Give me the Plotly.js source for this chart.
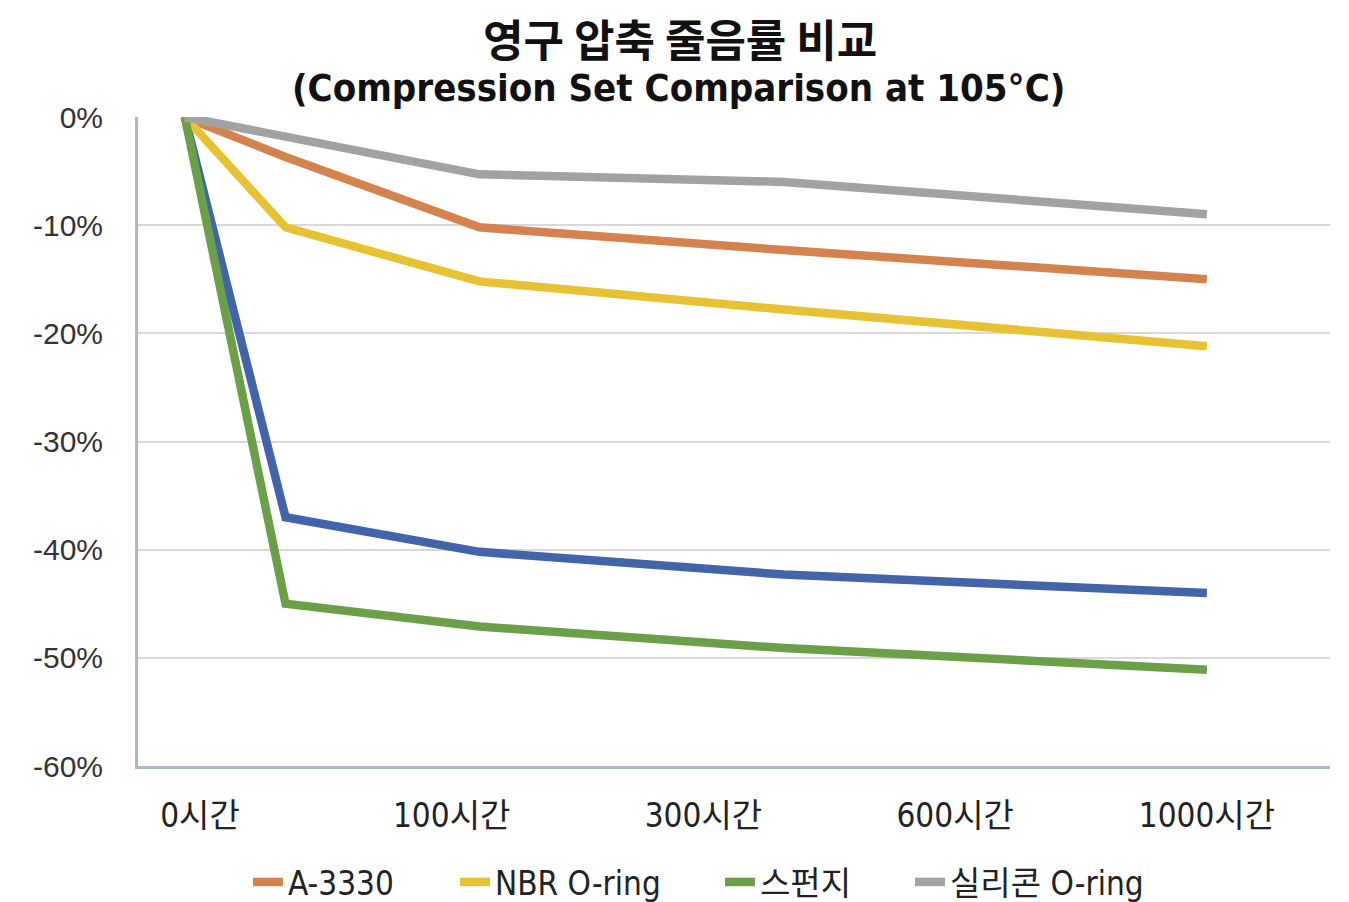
<!DOCTYPE html>
<html>
<head>
<meta charset="utf-8">
<script src="https://cdn.plot.ly/plotly-3.0.1.min.js"></script>
<style>html,body{margin:0;padding:0;background:#fff;}#chart{width:1349px;height:902px;}</style>
</head>
<body>
<div id="chart"></div>
<script>
// tick labels and their slots on the x axis
const xLabels = ['0시간', '100시간', '300시간', '600시간', '1000시간'];
const xLabelPos = [0, 1, 2, 3, 4];
// positions of the data points along the same axis (as drawn in the picture)
const xPos = [-0.06, 0.34, 1.11, 2.32, 4.0];

const seriesNames = ['A-3330', 'NBR O-ring', '스펀지', '실리콘 O-ring'];
const a3330    = [0, -3.7, -10.2, -12.3, -15.0];
const nbrOring = [0, -10.2, -15.2, -17.8, -21.2];
const sponge   = [0, -45.0, -47.1, -49.1, -51.1];
const silicone = [0, -1.8, -5.3, -6.0, -9.0];
const blueSeries = [0, -37.0, -40.2, -42.3, -44.0];

const yTicks = [0, -10, -20, -30, -40, -50, -60];
const yTickLabels = ['0%', '-10%', '-20%', '-30%', '-40%', '-50%', '-60%'];

const titleLine1 = '영구 압축 줄음률 비교';
const titleLine2 = '(Compression Set Comparison at 105°C)';

const condensed = '"DejaVu Sans Condensed", "Noto Sans CJK KR", sans-serif';

function line(y, name, color, legendId) {
  const t = {
    x: xPos, y: y, name: name, type: 'scatter', mode: 'lines',
    line: {color: color, width: 8.5, shape: 'linear'}
  };
  if (legendId) { t.legend = legendId; t.showlegend = true; } else { t.showlegend = false; }
  return t;
}

const data = [
  line(blueSeries, 'Series 5', '#4264a8', null),
  line(a3330, seriesNames[0], '#d5834e', 'legend'),
  line(nbrOring, seriesNames[1], '#e7c333', 'legend2'),
  line(sponge, seriesNames[2], '#6b9f48', 'legend3'),
  line(silicone, seriesNames[3], '#a2a2a2', 'legend4')
];

const W = 1349, H = 902;
const plotL = 138, plotR = 1330, plotT = 117, plotB = 766;
const px2x = p => (p - plotL) / (plotR - plotL);
const px2y = p => (plotB - p) / (plotB - plotT);

function legendAt(textStartPx) {
  return {
    orientation: 'h', xref: 'container', x: (textStartPx - 45) / W, xanchor: 'left',
    yref: 'container', y: (H - 882) / H, yanchor: 'middle',
    font: {family: condensed, size: 33, color: '#222222'},
    bgcolor: 'rgba(0,0,0,0)', borderwidth: 0
  };
}

const layout = {
  width: W, height: H,
  paper_bgcolor: '#ffffff', plot_bgcolor: '#ffffff',
  margin: {l: plotL, r: W - plotR, t: plotT, b: H - plotB, autoexpand: false},
  xaxis: {
    range: [-0.246, 4.489],
    tickvals: xLabelPos, ticktext: xLabels,
    showgrid: false, zeroline: false,
    showline: true, linecolor: '#a9b7cf', linewidth: 3,
    ticks: '', ticklabelstandoff: 18,
    tickfont: {family: condensed, size: 33, color: '#222222'},
    fixedrange: true
  },
  yaxis: {
    range: [-60, 0],
    tickvals: yTicks, ticktext: yTickLabels,
    showgrid: true, gridcolor: '#d9d9d9', gridwidth: 2,
    zeroline: false,
    showline: true, linecolor: '#a9b7cf', linewidth: 3,
    ticks: '', ticklabelstandoff: 26,
    tickfont: {family: '"Liberation Sans", Arial, sans-serif', size: 30, color: '#333333'},
    fixedrange: true
  },
  legend: legendAt(293),
  legend2: legendAt(500),
  legend3: legendAt(765),
  legend4: legendAt(955),
  annotations: [
    {text: '<b>' + titleLine1 + '</b>', xref: 'paper', yref: 'paper',
     x: px2x(680), y: px2y(38), xanchor: 'center', yanchor: 'middle', showarrow: false,
     font: {family: '"Noto Sans CJK KR", sans-serif', size: 44, color: '#111111'}},
    {text: '<b>' + titleLine2 + '</b>', xref: 'paper', yref: 'paper',
     x: px2x(678), y: px2y(88), xanchor: 'center', yanchor: 'middle', showarrow: false,
     font: {family: condensed, size: 38, color: '#111111'}}
  ],
  showlegend: true
};

Plotly.newPlot('chart', data, layout, {displayModeBar: false, staticPlot: true});
</script>
</body>
</html>
